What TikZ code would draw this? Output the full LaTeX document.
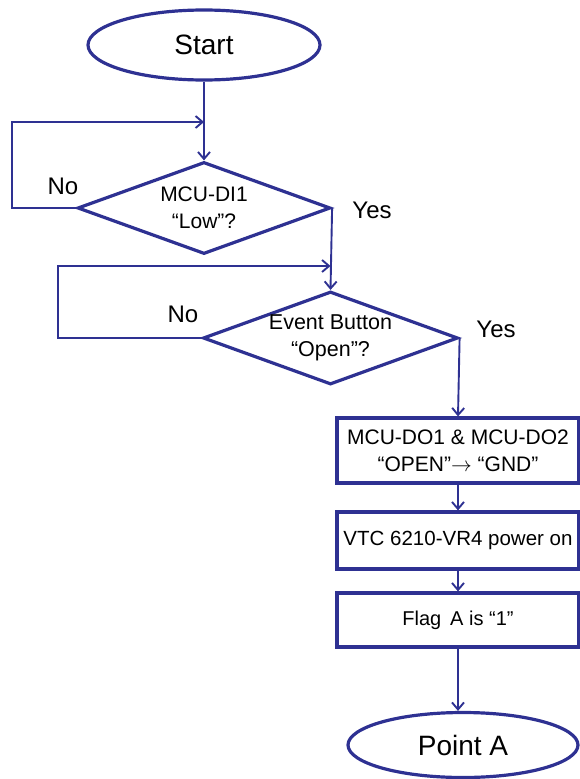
\documentclass[tikz,border=0pt]{standalone}
\usepackage{fontspec}
\setmainfont{Liberation Sans}
\usepackage{tikz}
\usetikzlibrary{positioning, calc, arrows.meta, shapes.geometric}

\definecolor{flowblue}{RGB}{46,49,146}

\begin{document}
\begin{tikzpicture}[x=1pt, y=-1pt,
  every node/.style={inner sep=0pt, align=center, text=black},
  terminal/.style={draw=flowblue, line width=3.2pt, ellipse, fill=white, font=\fontsize{28}{30}\selectfont},
  decision/.style={draw=flowblue, line width=3.2pt, diamond, aspect=2.75, fill=white, font=\fontsize{21}{27}\selectfont},
  process/.style={draw=flowblue, line width=3.2pt, rectangle, fill=white, minimum width=242pt, font=\fontsize{21}{27}\selectfont},
  flow/.style={draw=flowblue, line width=1.9pt, -{Straight Barb[length=7pt, width=12pt, line width=1.9pt]}},
  answer/.style={font=\fontsize{24}{26}\selectfont}
]
\useasboundingbox (0,0) rectangle (580,779);

% shapes
\node[terminal, minimum width=232pt, minimum height=70pt] (start) at (204,45) {Start};
\node[decision, minimum width=253pt, minimum height=92pt] (lowq) at (204,208) {MCU-DI1\\ “Low”?};
\node[decision, minimum width=255pt, minimum height=93pt, font=\fontsize{21.5}{27}\selectfont] (openq) at (330.5,338) {Event Button\\ “Open”?};
\node[process, minimum height=65pt] (gnd) at (458,450.5) {MCU-DO1 \& MCU-DO2\\ “OPEN”$\rightarrow$ “GND”};
\node[process, minimum height=57pt, font=\fontsize{20.5}{24}\selectfont] (power) at (458,540.5) {VTC 6210-VR4 power on};
\node[process, minimum height=54pt, font=\fontsize{20}{24}\selectfont] (flag) at (458,620) {Flag\, A is “1”};
\node[terminal, minimum width=230pt, minimum height=65pt] (pointa) at (463,745) {Point A};

% loop corners and joins
\coordinate (join1) at (204,122);
\coordinate (corner1) at (12,122);
\coordinate (join2) at (330.5,266);
\coordinate (corner2) at (58,266);

% labels
\node[answer] (no1) at (63,186) {No};
\node[answer] (yes1) at (372,210) {Yes};
\node[answer] (no2) at (183,314) {No};
\node[answer] (yes2) at (496,329) {Yes};

% connectors
\draw[flow] (start) -- (lowq.north);
\draw[flow] (lowq.west) -| (corner1) -- (join1);
\draw[flow] (lowq.east) -- (openq.north);
\draw[flow] (openq.west) -| (corner2) -- (join2);
\draw[flow] (openq.east) -- (gnd.north);
\draw[flow] (gnd) -- (power);
\draw[flow] (power) -- (flag);
\draw[flow] (flag) -- (flag |- pointa.north);
\end{tikzpicture}
\end{document}
